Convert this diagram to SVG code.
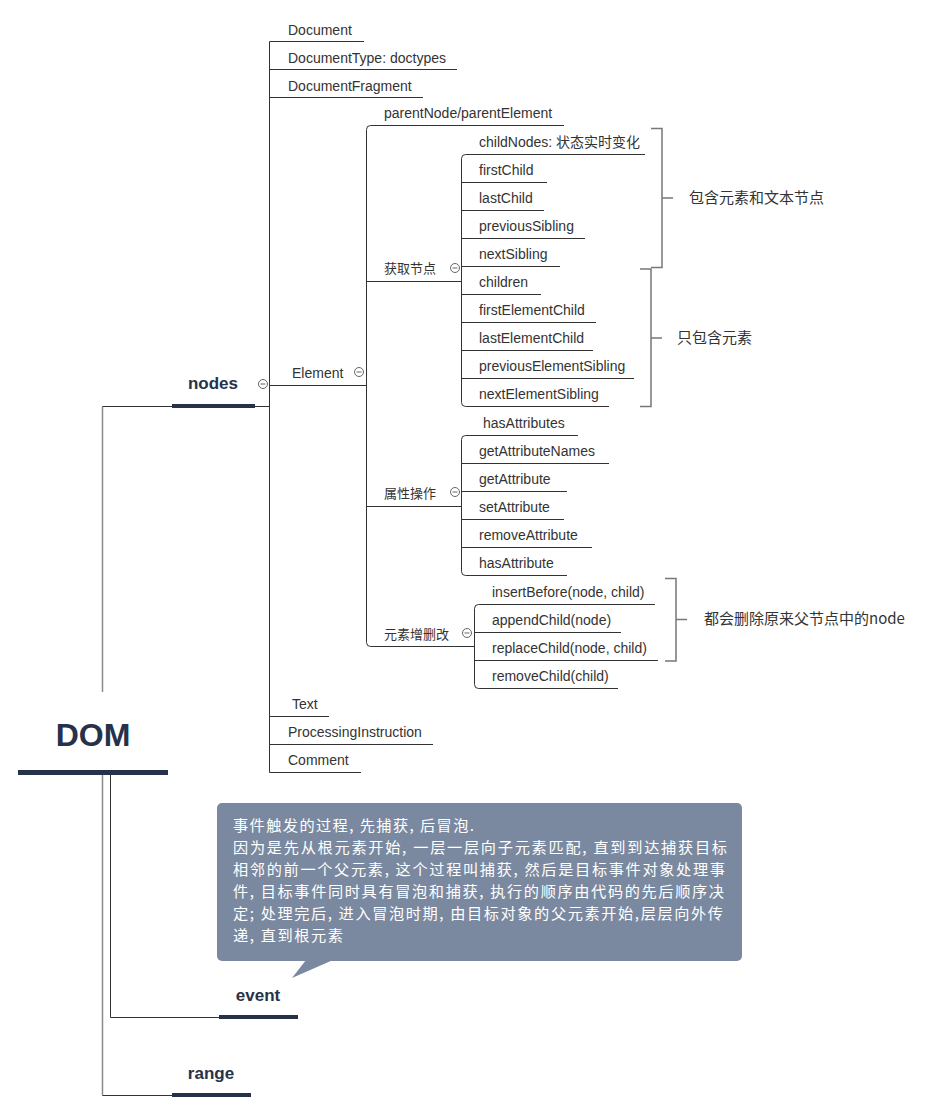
<svg xmlns="http://www.w3.org/2000/svg" width="940" height="1112" viewBox="0 0 940 1112">
<defs>
<style>
.t{font-family:"Liberation Sans","Noto Sans CJK SC",sans-serif;font-size:14px;fill:#333}
.c{font-family:"Noto Sans CJK SC",sans-serif;font-size:13px;fill:#333}
.n{font-family:"Noto Sans CJK SC",sans-serif;font-size:15px;fill:#333}
.b{font-family:"Liberation Sans",sans-serif;font-weight:bold;fill:#26324a;text-anchor:middle}
.w{font-family:"Noto Sans CJK SC",sans-serif;font-size:15.2px;fill:#fff}
.l{fill:none;stroke:#333;stroke-width:1}
.g{fill:none;stroke:#8a8a8a;stroke-width:1.5}
.k{fill:none;stroke:#777;stroke-width:1.5}
.bar{fill:#26324a}
.ic{fill:#fff;stroke:#666;stroke-width:1}
</style>
<g id="icon"><circle cx="0" cy="0" r="4.5" class="ic"/><line x1="-2.5" y1="0" x2="2.5" y2="0" stroke="#666" stroke-width="1"/></g>
</defs>
<rect width="940" height="1112" fill="#fff"/>

<g id="connectors">
<path class="g" d="M102.5,692 V406.5"/>
<path class="l" d="M102.5,406.5 H172"/>
<path class="l" d="M110.5,775 V1017.5 H219"/>
<path class="g" d="M102.5,775 V1095.5"/>
<path class="l" d="M102.5,1095.5 H172"/>
<path class="l" d="M254,406.5 H269.5"/>
<path class="l" d="M269.5,41.5 V772.5"/>
<path class="l" d="M269.5,41.5 H364 M269.5,69.5 H457 M269.5,97.5 H423 M269.5,385.5 H366.5 M269.5,716.5 H329 M269.5,744.5 H433 M269.5,772.5 H361"/>
<path class="l" d="M564,125.5 H370.5 Q366.5,125.5 366.5,129.5 V642.5 Q366.5,646.5 370.5,646.5 H474.5"/>
<path class="l" d="M366.5,281.5 H461.5 M366.5,506.5 H461.5"/>
<path class="l" d="M645,154.5 H465.5 Q461.5,154.5 461.5,158.5 V402.5 Q461.5,406.5 465.5,406.5 H609"/>
<path class="l" d="M461.5,182.5 H547 M461.5,210.5 H544 M461.5,238.5 H585 M461.5,266.5 H560 M461.5,294.5 H541 M461.5,322.5 H596 M461.5,350.5 H593 M461.5,378.5 H634"/>
<path class="l" d="M578,435.5 H465.5 Q461.5,435.5 461.5,439.5 V571.5 Q461.5,575.5 465.5,575.5 H567"/>
<path class="l" d="M461.5,463.5 H609 M461.5,491.5 H567 M461.5,519.5 H564 M461.5,547.5 H592"/>
<path class="l" d="M655,604.5 H478.5 Q474.5,604.5 474.5,608.5 V684.5 Q474.5,688.5 478.5,688.5 H618"/>
<path class="l" d="M474.5,632.5 H621 M474.5,660.5 H658"/>
<path class="k" d="M651,128.5 H662 V267.5 H651 M662,198 H673"/>
<path class="k" d="M640,269 H651 V406.5 H640 M651,338 H662"/>
<path class="k" d="M665,578.5 H676 V661 H665 M676,619.5 H687"/>
</g>

<g id="DOM">
<text class="b" x="93" y="746" font-size="32">DOM</text>
<rect class="bar" x="18" y="770" width="150" height="5"/>
</g>
<g id="nodes">
<text class="b" x="213" y="389" font-size="17">nodes</text>
<rect class="bar" x="172" y="404" width="83" height="4"/>
<use href="#icon" x="263" y="384"/>
</g>
<g id="event">
<text class="b" x="258" y="1001" font-size="17">event</text>
<rect class="bar" x="219" y="1015" width="79" height="4"/>
</g>
<g id="range">
<text class="b" x="211" y="1079" font-size="17">range</text>
<rect class="bar" x="172" y="1093" width="79" height="4"/>
</g>

<g id="n-document"><text class="t" x="288" y="35">Document</text></g>
<g id="n-doctype"><text class="t" x="288" y="63">DocumentType: doctypes</text></g>
<g id="n-fragment"><text class="t" x="288" y="91">DocumentFragment</text></g>
<g id="n-element"><text class="t" x="292" y="378">Element</text><use href="#icon" x="359" y="372"/></g>
<g id="n-text"><text class="t" x="292" y="709">Text</text></g>
<g id="n-pi"><text class="t" x="288" y="737">ProcessingInstruction</text></g>
<g id="n-comment"><text class="t" x="288" y="765">Comment</text></g>

<g id="n-parent"><text class="t" x="384" y="118">parentNode/parentElement</text></g>
<g id="n-get"><text class="c" x="384" y="273">获取节点</text><use href="#icon" x="455" y="268"/></g>
<g id="n-attr"><text class="c" x="384" y="498">属性操作</text><use href="#icon" x="455" y="492"/></g>
<g id="n-mod"><text class="c" x="384" y="639">元素增删改</text><use href="#icon" x="467" y="633"/></g>

<g id="n-childNodes"><text class="t" x="479" y="147">childNodes: 状态实时变化</text></g>
<g id="n-firstChild"><text class="t" x="479" y="175">firstChild</text></g>
<g id="n-lastChild"><text class="t" x="479" y="203">lastChild</text></g>
<g id="n-previousSibling"><text class="t" x="479" y="231">previousSibling</text></g>
<g id="n-nextSibling"><text class="t" x="479" y="259">nextSibling</text></g>
<g id="n-children"><text class="t" x="479" y="287">children</text></g>
<g id="n-firstElementChild"><text class="t" x="479" y="315">firstElementChild</text></g>
<g id="n-lastElementChild"><text class="t" x="479" y="343">lastElementChild</text></g>
<g id="n-previousElementSibling"><text class="t" x="479" y="371">previousElementSibling</text></g>
<g id="n-nextElementSibling"><text class="t" x="479" y="399">nextElementSibling</text></g>

<g id="n-hasAttributes"><text class="t" x="483" y="428">hasAttributes</text></g>
<g id="n-getAttributeNames"><text class="t" x="479" y="456">getAttributeNames</text></g>
<g id="n-getAttribute"><text class="t" x="479" y="484">getAttribute</text></g>
<g id="n-setAttribute"><text class="t" x="479" y="512">setAttribute</text></g>
<g id="n-removeAttribute"><text class="t" x="479" y="540">removeAttribute</text></g>
<g id="n-hasAttribute"><text class="t" x="479" y="568">hasAttribute</text></g>

<g id="n-insertBefore"><text class="t" x="492" y="597">insertBefore(node, child)</text></g>
<g id="n-appendChild"><text class="t" x="492" y="625">appendChild(node)</text></g>
<g id="n-replaceChild"><text class="t" x="492" y="653">replaceChild(node, child)</text></g>
<g id="n-removeChild"><text class="t" x="492" y="681">removeChild(child)</text></g>

<g id="s-both"><text class="n" x="689" y="203">包含元素和文本节点</text></g>
<g id="s-elem"><text class="n" x="677" y="343">只包含元素</text></g>
<g id="s-remove"><text class="n" x="704" y="624">都会删除原来父节点中的node</text></g>

<g id="callout">
<rect x="217" y="803" width="525" height="158" rx="5" fill="#7a89a0"/>
<polygon points="306,960 333,960 292,978" fill="#7a89a0"/>
<text class="w" x="233" y="831" textLength="241" lengthAdjust="spacing">事件触发的过程, 先捕获, 后冒泡.</text>
<text class="w" x="233" y="853" textLength="494" lengthAdjust="spacing">因为是先从根元素开始, 一层一层向子元素匹配, 直到到达捕获目标</text>
<text class="w" x="233" y="875" textLength="492" lengthAdjust="spacing">相邻的前一个父元素, 这个过程叫捕获, 然后是目标事件对象处理事</text>
<text class="w" x="233" y="897" textLength="491" lengthAdjust="spacing">件, 目标事件同时具有冒泡和捕获, 执行的顺序由代码的先后顺序决</text>
<text class="w" x="233" y="919" textLength="490" lengthAdjust="spacing">定; 处理完后, 进入冒泡时期, 由目标对象的父元素开始,层层向外传</text>
<text class="w" x="233" y="941" textLength="110" lengthAdjust="spacing">递, 直到根元素</text>
</g>
</svg>
